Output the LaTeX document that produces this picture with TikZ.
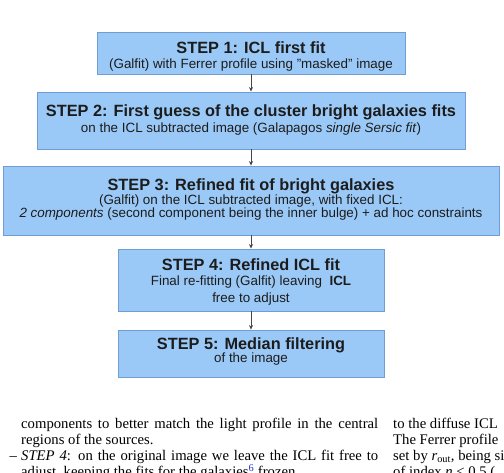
\documentclass[tikz,border=0pt]{standalone}
\usepackage{fontspec}
\setmainfont{Liberation Serif}
\setsansfont{Liberation Sans}
\usetikzlibrary{arrows.meta}
\definecolor{boxfill}{RGB}{155,201,247}
\definecolor{boxline}{RGB}{112,158,212}
\definecolor{inktext}{RGB}{28,28,28}
\definecolor{linkblue}{RGB}{30,50,210}
\definecolor{arrowgray}{RGB}{70,70,70}
\begin{document}
\begin{tikzpicture}[x=1pt,y=-1pt,
  stepbox/.style={draw=boxline, fill=boxfill, line width=0.9pt, inner sep=0pt, rectangle},
  ttl/.style={anchor=base, inner sep=0pt, text=inktext, font=\sffamily\bfseries\fontsize{16.3}{18}\selectfont},
  sub/.style={anchor=base, inner sep=0pt, text=inktext, font=\sffamily\fontsize{13.4}{15}\selectfont},
  body/.style={anchor=base west, inner sep=0pt, text=black, font=\rmfamily\fontsize{14.7}{16}\selectfont},
  flow/.style={draw=arrowgray, line width=0.6pt, -{Stealth[length=4.5pt,width=4pt]}}]
\useasboundingbox (0,0) rectangle (504,473);
\clip (0,0) rectangle (504,473);

% boxes
\node[stepbox, minimum width=308pt, minimum height=42pt] (s1) at (251,53) {};
\node[stepbox, minimum width=428pt, minimum height=57pt] (s2) at (251,120.5) {};
\node[stepbox, minimum width=496pt, minimum height=69pt] (s3) at (251,200.5) {};
\node[stepbox, minimum width=266pt, minimum height=62pt] (s4) at (251,280) {};
\node[stepbox, minimum width=266pt, minimum height=47pt] (s5) at (251,353.5) {};

% connectors
\draw[flow] (s1.south) -- (s2.north);
\draw[flow] (s2.south) -- (s3.north);
\draw[flow] (s3.south) -- (s4.north);
\draw[flow] (s4.south) -- (s5.north);

% box texts
\node[ttl] (t1) at (251,54) {STEP 1: ICL first fit};
\node[sub] (u1) at (251,69) {(Galfit) with Ferrer profile using "masked" image};
\node[ttl] (t2) at (251,116.7) {STEP 2: First guess of the cluster bright galaxies fits};
\node[sub] (u2) at (251,132.5) {on the ICL subtracted image (Galapagos \textit{single Sersic fit})};
\node[ttl] (t3) at (251,190.6) {STEP 3: Refined fit of bright galaxies};
\node[sub] (u3a) at (251,204.6) {(Galfit) on the ICL subtracted image, with fixed ICL:};
\node[sub] (u3b) at (251,217.8) {\textit{2 components} (second component being the inner bulge) + ad hoc constraints};
\node[ttl] (t4) at (251,270.7) {STEP 4: Refined ICL fit};
\node[sub] (u4a) at (251,285.8) {Final re-fitting (Galfit) leaving\ \ \textbf{ICL}};
\node[sub] (u4b) at (251,302.2) {free to adjust};
\node[ttl] (t5) at (251,349.2) {STEP 5: Median filtering};
\node[sub] (u5) at (251,362.5) {of the image};

% paper text below the figure
\node[body] (p1) at (21,428.7) {\makebox[357pt][s]{components to better match the light profile in the central}};
\node[body] (p2) at (21,444.7) {regions of the sources.};
\node[body] (pd) at (9.5,460.7) {\textendash};
\node[body] (p3) at (21,460.7) {\makebox[357pt][s]{\textit{STEP 4}: on the original image we leave the ICL fit free to}};
\node[body] (p4) at (21,476.7) {adjust, keeping the fits for the galaxies\textsuperscript{\textcolor{linkblue}{6}} frozen.};
\node[body] (q1) at (393,428.7) {to the diffuse ICL};
\node[body] (q2) at (393,444.7) {The Ferrer profile};
\node[body] (q3) at (393,460.7) {set by \textit{r}\textsubscript{out}, being si};
\node[body] (q4) at (393,476.7) {of index \textit{n} < 0.5 (};
\end{tikzpicture}
\end{document}
